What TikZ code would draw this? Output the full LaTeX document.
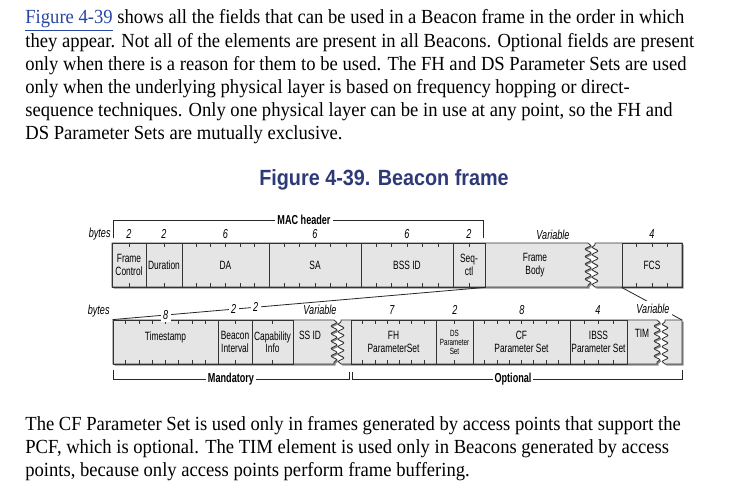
\documentclass[tikz,border=0pt]{standalone}
\usepackage{fontspec}
\setmainfont[FakeStretch=0.93]{Liberation Serif}
\newfontfamily\condfont[FakeStretch=0.7]{Liberation Sans}
\newfontfamily\titlefont[FakeStretch=0.9]{Liberation Sans}
\usetikzlibrary{positioning,calc,shadows,decorations.pathmorphing}

\definecolor{linkblue}{RGB}{40,70,165}
\definecolor{titleblue}{RGB}{46,58,120}
\definecolor{boxgray}{RGB}{229,229,229}

\tikzset{
  bodyline/.style={anchor=base west,inner sep=0pt,font=\fontsize{20}{23}\selectfont},
  piece/.style={fill=boxgray,draw=black!80,
    drop shadow={shadow xshift=1.5pt,shadow yshift=-1.5pt,fill=black!45,opacity=1}},
  wavy/.style={decorate,decoration={snake,segment length=7.5pt,amplitude=2.8pt}},
  field/.style={draw=black!80,minimum height=44pt,inner sep=0pt,align=center,
    font=\condfont\fontsize{12}{12.5}\selectfont},
  fieldtext/.style={inner sep=0pt,align=center,font=\condfont\fontsize{12}{12.5}\selectfont},
  bytenum/.style={inner sep=0pt,font=\condfont\itshape\fontsize{13}{13}\selectfont},
  numfill/.style={bytenum,fill=white,inner sep=2.5pt},
  tick/.style={draw=black!80},
  conn/.style={draw=black!85},
  brace/.style={draw=black!85},
  bracelabel/.style={fill=white,inner xsep=2pt,inner ysep=0pt,font=\condfont\bfseries\fontsize{13}{13}\selectfont}
}

\begin{document}
\begin{tikzpicture}[x=1pt,y=-1pt,line width=0.8pt]
  \useasboundingbox (0,0) rectangle (741,489);
  \fill[white] (0,0) rectangle (741,489);

  % text above
  \node[bodyline] (t1) at (25,24) {\textcolor{linkblue}{\underline{Figure 4-39}} shows all the fields that can be used in a Beacon frame in the order in which};
  \node[bodyline] (t2) at (25,47.2) {they appear. Not all of the elements are present in all Beacons. Optional fields are present};
  \node[bodyline] (t3) at (25,70.4) {only when there is a reason for them to be used. The FH and DS Parameter Sets are used};
  \node[bodyline] (t4) at (25,93.6) {only when the underlying physical layer is based on frequency hopping or direct-};
  \node[bodyline] (t5) at (25,116.8) {sequence techniques. Only one physical layer can be in use at any point, so the FH and};
  \node[bodyline] (t6) at (25,140) {DS Parameter Sets are mutually exclusive.};

  \node[font=\titlefont\bfseries\fontsize{22}{26}\selectfont,text=titleblue] (title) at (384,180) {Figure 4-39. Beacon frame};

  % MAC header row
  \filldraw[piece] (112,243) -- (588,243) decorate[wavy]{-- (588,287)} -- (112,287) -- cycle;
  \filldraw[piece] (682,243) -- (682,287) -- (595,287) decorate[wavy]{-- (595,243)} -- cycle;

  \node[field,minimum width=34pt] (fc) at (129,265) {Frame\\Control};
  \node[field,minimum width=36pt] (dur) at (164,265) {Duration};
  \node[field,minimum width=87pt] (da) at (225.5,265) {DA};
  \node[field,minimum width=92pt] (sa) at (315,265) {SA};
  \node[field,minimum width=92pt] (bssid) at (407,265) {BSS ID};
  \node[field,minimum width=32pt] (seq) at (469,265) {Seq-\\ctl};
  \node[fieldtext] (body) at (535,265) {Frame\\Body};
  \node[field,minimum width=60pt] (fcs) at (652,265) {FCS};

  \node[bytenum,anchor=east] (bytes1) at (111,234) {bytes};
  \node[bytenum,above=4pt of fc.north] (b1) {2};
  \node[bytenum,above=4pt of dur.north] (b2) {2};
  \node[bytenum,above=4pt of da.north] (b3) {6};
  \node[bytenum,above=4pt of sa.north] (b4) {6};
  \node[bytenum,above=4pt of bssid.north] (b5) {6};
  \node[bytenum,above=4pt of seq.north] (b6) {2};
  \node[bytenum] (b7) at (553,235) {Variable};
  \node[bytenum,above=4pt of fcs.north] (b8) {4};

  \draw[brace] (113,238) -- (113,220) -- (483,220) -- (483,238);
  \node[bracelabel] (mac) at (304,220) {MAC header};

  % frame body row
  \filldraw[piece] (113,320) -- (334,320) decorate[wavy]{-- (334,364)} -- (113,364) -- cycle;
  \filldraw[piece] (341,364) decorate[wavy]{-- (341,320)} -- (657,320) decorate[wavy]{-- (657,364)} -- cycle;
  \filldraw[piece] (682,320) -- (682,364) -- (665,364) decorate[wavy]{-- (665,320)} -- cycle;

  \node[field,minimum width=105pt] (ts) at (165.5,342) {Timestamp\\\phantom{X}};
  \node[field,minimum width=34pt] (bi) at (235,342) {Beacon\\Interval};
  \node[field,minimum width=41pt] (cap) at (272.5,342) {Capability\\Info};
  \node[fieldtext] (ssid) at (310,342) {SS ID\\\phantom{X}};
  \node[field,minimum width=85pt] (fh) at (393.5,342) {FH\\ParameterSet};
  \node[field,minimum width=37pt,font=\condfont\fontsize{9}{9}\selectfont] (ds) at (454.5,342) {DS\\Parameter\\Set};
  \node[field,minimum width=97pt] (cf) at (521.5,342) {CF\\Parameter Set};
  \node[field,minimum width=57pt] (ibss) at (598.5,342) {IBSS\\Parameter Set};
  \node[fieldtext] (tim) at (642,340) {TIM\\\phantom{X}};

  \foreach \f/\nb in {fc/2,dur/2,da/6,sa/6,bssid/6,seq/2,fcs/4,ts/8,bi/2,cap/2,fh/7,ds/2,cf/8,ibss/4}{
    \pgfmathtruncatemacro{\m}{\nb-1}
    \foreach \k in {1,...,\m}{
      \draw[tick] ($(\f.north west)!\k/\nb!(\f.north east)$) -- ++(0,4);
      \draw[tick] ($(\f.south west)!\k/\nb!(\f.south east)$) -- ++(0,-4);
    }
  }

  \node[bytenum,anchor=east] (bytes2) at (110,311) {bytes};
  \node[bytenum] (v1) at (320,310) {Variable};
  \node[bytenum] (c1) at (392,310) {7};
  \node[bytenum] (c2) at (455,310) {2};
  \node[bytenum] (c3) at (522,310) {8};
  \node[bytenum] (c4) at (598,310) {4};

  \draw[conn] (ts.north west) -- (seq.south east)
    node[numfill,pos=0.1425] (a1) {8}
    node[numfill,pos=0.325] (a2) {2}
    node[numfill,pos=0.384] (a3) {2};
  \coordinate (tend) at (682,320);
  \draw[conn] (fcs.south west) -- (tend) node[numfill,pos=0.52,yshift=-4pt] (v2) {Variable};

  \draw[brace] (113,370) -- (113,379) -- (349,379) -- (349,372);
  \node[bracelabel] (mand) at (231,379) {Mandatory};
  \draw[brace] (352,372) -- (352,379) -- (682,379) -- (682,370);
  \node[bracelabel] (opt) at (513,379) {Optional};

  % text below
  \node[bodyline] (u1) at (25,430) {The CF Parameter Set is used only in frames generated by access points that support the};
  \node[bodyline] (u2) at (25,453) {PCF, which is optional. The TIM element is used only in Beacons generated by access};
  \node[bodyline] (u3) at (25,476) {points, because only access points perform frame buffering.};
\end{tikzpicture}
\end{document}
